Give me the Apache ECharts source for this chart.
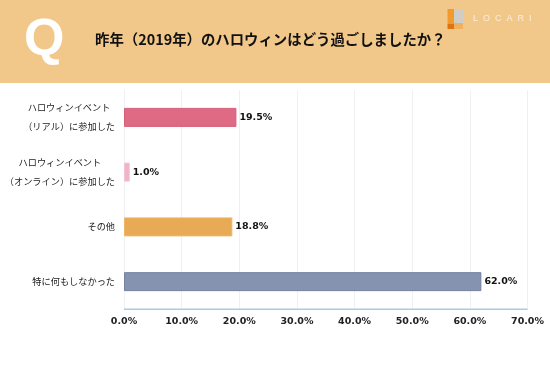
<!DOCTYPE html>
<html><head><meta charset="utf-8">
<style>html,body{margin:0;padding:0;background:#fff}#c{width:550px;height:388px}</style>
<script src="https://cdn.jsdelivr.net/npm/echarts@6/dist/echarts.min.js"></script>
</head><body><div id="c"></div>
<script>
const categories = ['ハロウィンイベント\n（リアル）に参加した','ハロウィンイベント\n（オンライン）に参加した','その他','特に何もしなかった'];
const values = [19.5, 1.0, 18.8, 62.0];
const barColors = ['#de6a84','#f0b4c6','#e9aa55','#8592b0'];
const borderColors = ['#d55f7b','#f3c3d2','#efb765','#76839f'];
const title = '昨年（2019年）のハロウィンはどう過ごしましたか？';
const font = '"Noto Sans CJK JP","Noto Sans",sans-serif';
// first lines of two-line labels are centred over the second line
const centreLines = s => {
  const l = s.split('\n');
  return l.length < 2 ? s : l[0] + '\u2002'.repeat(Math.max(0, l[1].length - l[0].length)) + '\n' + l[1];
};
const chart = echarts.init(document.getElementById('c'), null, {renderer:'canvas'});
chart.setOption({
  animation:false,
  backgroundColor:'#fff',
  grid:{left:124,right:22.5,top:90,bottom:79,containLabel:false,outerBoundsMode:'none'},
  xAxis:{type:'value',min:0,max:70,interval:10,
    axisLabel:{formatter:v=>v.toFixed(1)+'%',color:'#222',fontFamily:'"DejaVu Sans",sans-serif',fontSize:9.5,fontWeight:'bold',margin:8,hideOverlap:false},
    axisLine:{show:false},axisTick:{show:false},
    splitLine:{show:true,lineStyle:{color:'#eef0f3',width:1}}},
  yAxis:{type:'category',inverse:true,data:categories,
    axisLabel:{formatter:centreLines,color:'#222',fontFamily:font,fontSize:9.2,lineHeight:19,margin:9,align:'right'},
    axisLine:{show:true,onZero:false,lineStyle:{color:'#eef0f3',width:1}},axisTick:{show:false}},
  series:[{type:'bar',barWidth:19,
    data:values.map((v,i)=>({value:v,itemStyle:{color:barColors[i],borderColor:borderColors[i],borderWidth:1}})),
    label:{show:true,position:'right',distance:3,formatter:p=>p.value.toFixed(1)+'%',color:'#111',
      fontFamily:'"DejaVu Sans",sans-serif',fontSize:9.5,fontWeight:'bold'}}],
  graphic:[
    {type:'rect',z:-1,shape:{x:0,y:0,width:550,height:83},style:{fill:'#f2c88a'}},
    {type:'text',z:5,style:{x:24,y:15,text:'Q',fill:'#fff',font:'bold 52px "Liberation Sans",sans-serif'}},
    {type:'text',z:5,style:{x:95,y:32,text:title,fill:'#111',font:'bold 14.4px '+font}},
    {type:'rect',z:5,shape:{x:447.5,y:9,width:6.5,height:15},style:{fill:'#f39a2c'}},
    {type:'rect',z:5,shape:{x:447.5,y:24,width:6.5,height:5},style:{fill:'#de7412'}},
    {type:'rect',z:5,shape:{x:454,y:9,width:9,height:14},style:{fill:'#cfcdc6'}},
    {type:'rect',z:5,shape:{x:454,y:23,width:9,height:6},style:{fill:'#f0b060'}},
    {type:'text',z:5,style:{x:473,y:14.5,text:'L  O  C  A  R  I',fill:'#fbeedd',font:'9px "Liberation Sans",sans-serif'}},
    {type:'rect',z:5,shape:{x:124,y:308.5,width:403.5,height:1.5},style:{fill:'#a9cbe0'}}
  ]
});
</script></body></html>
